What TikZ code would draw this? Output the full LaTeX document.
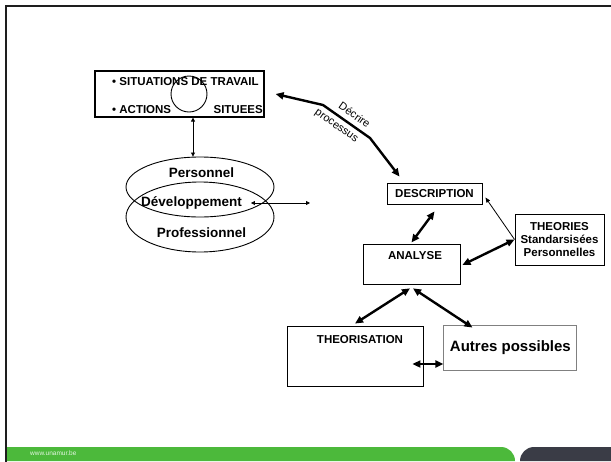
\documentclass[tikz,border=0pt]{standalone}
\usepackage{fontspec}
\setmainfont{Liberation Sans}
\usetikzlibrary{arrows.meta,positioning,shapes.geometric}
\definecolor{unagreen}{HTML}{4CB93B}
\definecolor{unadark}{HTML}{3A3C46}
\definecolor{framegray}{HTML}{1E1E1E}
\tikzset{
  font=\bfseries\fontsize{11.5}{13}\selectfont,
  box/.style={
    draw,
    line width=0.9pt,
    align=center,
    inner sep=0pt
  },
  sitbox/.style={
    draw,
    line width=1.2pt,
    minimum width=169pt,
    minimum height=46pt
  },
  ellip/.style={
    draw,
    ellipse,
    line width=0.9pt,
    minimum width=148pt,
    inner sep=0pt
  },
  txt/.style={inner sep=0pt},
  big/.style={inner sep=0pt, font=\bfseries\fontsize{13.5}{15}\selectfont},
  slab/.style={inner sep=1pt, font=\normalfont\fontsize{11}{12}\selectfont, sloped},
  arrow/.style={{Triangle[length=8pt,width=7pt]}-{Triangle[length=8pt,width=7pt]}, line width=2.4pt},
  thinarrow/.style={{Triangle[length=4pt,width=4pt]}-{Triangle[length=4pt,width=4pt]}, line width=0.8pt},
  thinhead/.style={-{Triangle[length=5pt,width=4pt]}, line width=0.8pt}
}

\begin{document}
\begin{tikzpicture}[x=1pt, y=-1pt]
\useasboundingbox (0,0) rectangle (611,461);

% Slide footer and frame
\fill[unagreen] (7,461) -- (7,447) -- (501,447) arc[start angle=90, end angle=0, radius=14pt] -- cycle;
\fill[unadark] (611,461) -- (611,447) -- (534,447) arc[start angle=90, end angle=180, radius=14pt] -- cycle;
\node[txt, anchor=west, text=white!85!unagreen, font=\normalfont\fontsize{6.5}{7}\selectfont] (url) at (30,453) {www.unamur.be};
\draw[framegray, line width=2.2pt] (6,463) -- (6,6) -- (613,6);

% Left: situations and development
\node[sitbox] (sit) at (179.5,94) {};
\node[txt, anchor=west] (sitA) at (112,82) {• SITUATIONS DE TRAVAIL};
\node[txt, anchor=west] (sitB) at (112,110) {• ACTIONS};
\node[txt, anchor=east] (sitC) at (263,110) {SITUEES};
\node[draw, circle, line width=0.9pt, minimum size=36pt, inner sep=0pt] (loop) at (189,94) {};

\node[ellip, minimum height=60pt] (pers) at (200,187) {};
\node[ellip, minimum height=70pt] (prof) at (200,217) {};
\node[big] (persT) at (201.5,173) {Personnel};
\node[big] (devT) at (191.5,203) {Développement};
\node[big] (profT) at (201.5,233) {Professionnel};
\coordinate (devEnd) at (310,203);

% Right: description, analysis, theories
\node[box, minimum width=95pt, minimum height=21pt] (desc) at (434.5,193.5) {DESCRIPTION};
\node[box, minimum width=97pt, minimum height=40pt, below=40pt of desc, xshift=-23pt] (ana) {};
\node[txt] (anaT) at (415,256) {ANALYSE};
\node[box, minimum width=89pt, minimum height=51pt] (theo) at (559.5,239.5) {THEORIES\\Standarsisées\\Personnelles};

% Bottom: theorisation and others
\node[box, minimum width=136pt, minimum height=60pt] (thz) at (355,356) {};
\node[txt] (thzT) at (360,340) {THEORISATION};
\node[box, draw=gray, minimum width=133pt, minimum height=45pt, right=20pt of thz, yshift=8.5pt,
      font=\bfseries\fontsize{15}{17}\selectfont] (autres) {Autres possibles};

% Edges
\coordinate (b1) at (323,105);
\coordinate (b2) at (370,138);
\draw[arrow] ([xshift=11pt]sit.east) -- (b1) -- (b2)
  node[slab, pos=0.55, above=4pt] {Décrire}
  node[slab, pos=0.4, below=4pt] {processus}
  -- ([xshift=13pt, yshift=6pt]desc.north west);
\draw[thinarrow] ([xshift=13.5pt]sit.south) -- ([xshift=13.5pt]sit.south |- pers.north);
\draw[thinarrow] ([xshift=9pt]devT.east) -- (devEnd);
\draw[arrow] ([yshift=-7pt]desc.south) -- ([yshift=2pt]ana.north);
\draw[thinhead] (theo.west) -- ([xshift=3pt, yshift=-4pt]desc.east);
\draw[arrow] (theo.west) -- ([xshift=2pt]ana.east);
\draw[arrow] ([xshift=-1.5pt, yshift=-3pt]ana.south) -- ([yshift=2pt]thz.north);
\draw[arrow] ([xshift=1.5pt, yshift=-3pt]ana.south) -- ([xshift=29pt, yshift=-3pt]autres.north west);
\coordinate (tz) at ([shift={(-11pt,-8pt)}]thz.east);
\draw[arrow] (tz) -- (tz -| autres.west);

\end{tikzpicture}
\end{document}
